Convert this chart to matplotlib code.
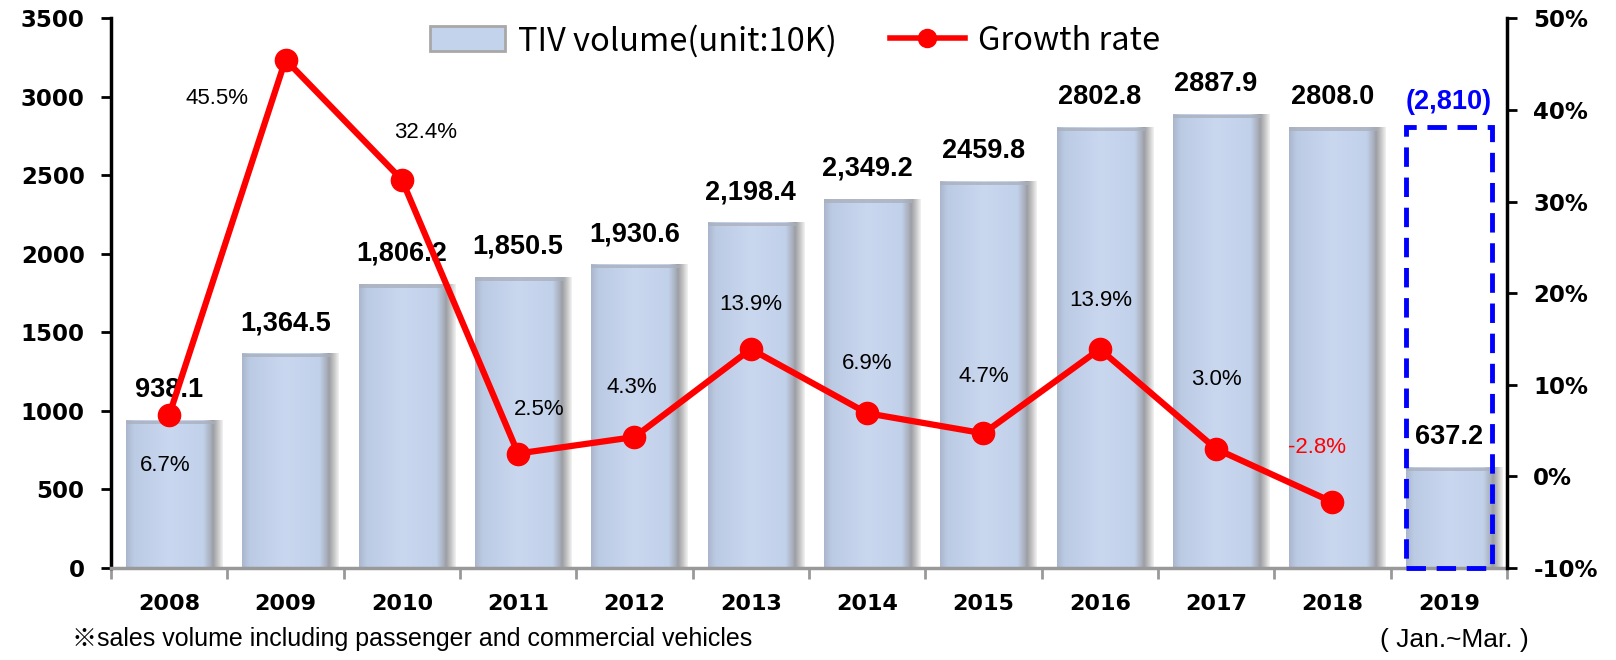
"""
TIV volume and growth rate chart
"""

import numpy as np
import matplotlib

matplotlib.use("Agg")
import matplotlib.pyplot as plt
from matplotlib.patches import Rectangle, Patch
from matplotlib.lines import Line2D

years = ["2008", "2009", "2010", "2011", "2012", "2013",
         "2014", "2015", "2016", "2017", "2018", "2019"]
volume = [938.1, 1364.5, 1806.2, 1850.5, 1930.6, 2198.4,
          2349.2, 2459.8, 2802.8, 2887.9, 2808.0, 637.2]
volume_labels = ["938.1", "1,364.5", "1,806.2", "1,850.5", "1,930.6", "2,198.4",
                 "2,349.2", "2459.8", "2802.8", "2887.9", "2808.0", "637.2"]
growth = [6.7, 45.5, 32.4, 2.5, 4.3, 13.9, 6.9, 4.7, 13.9, 3.0, -2.8]
growth_labels = ["6.7%", "45.5%", "32.4%", "2.5%", "4.3%", "13.9%",
                 "6.9%", "4.7%", "13.9%", "3.0%", "-2.8%"]
forecast_2019 = 2810
forecast_label = "(2,810)"

# offsets of the growth labels from their points (points)
growth_offsets = [(-3, -36), (-49, -28), (17, 34), (15, 32), (-2, 36), (0, 32),
                  (0, 36), (0, 41), (1, 35), (0, 50), (-11, 39)]

fig = plt.figure(figsize=(16.16, 6.6), dpi=100)
ax = fig.add_axes([0.0687, 0.1394, 0.8638, 0.8326])
x = np.arange(len(years))

bar_w = 0.74
shadow_w = 0.09
bars = ax.bar(x, volume, width=bar_w, color="none", edgecolor="none", zorder=2)

# gradient fill for each bar, light blue with a grey shadow on the right
cmap = matplotlib.colors.LinearSegmentedColormap.from_list(
    "barfill",
    [(0.0, "#aab6cc"), (0.08, "#bccbe4"), (0.45, "#c9d8ef"), (0.8, "#c2d1ea"),
     (0.87, "#aab1c0"), (0.9, "#9c9ea4"), (0.95, "#c4c4c4"), (1.0, "#f2f2f2")],
)
grad = np.linspace(0, 1, 256).reshape(1, -1)
for b in bars:
    x0 = b.get_x()
    w = b.get_width()
    h = b.get_height()
    ax.imshow(grad, cmap=cmap, extent=[x0, x0 + w + shadow_w, 0, h], aspect="auto",
              interpolation="bilinear", zorder=1)
    ax.add_patch(Rectangle((x0, h - 22), w + 0.02, 22, facecolor="#a9afbb",
                           edgecolor="none", alpha=0.75, zorder=1.5))

for xi, v, lab in zip(x, volume, volume_labels):
    ax.annotate(lab, (xi, v), xytext=(0, 22), textcoords="offset points",
                ha="center", va="center", fontsize=19.5, fontweight="bold",
                family="Liberation Sans", zorder=5)

# dashed forecast box for 2019
ax.add_patch(Rectangle((x[-1] - 0.37, 0), 0.74, forecast_2019, fill=False,
                       edgecolor="#0000ff", linestyle=(0, (4, 2.2)), linewidth=3.5,
                       zorder=6, clip_on=False))
ax.annotate(forecast_label, (x[-1], forecast_2019), xytext=(0, 18),
            textcoords="offset points", ha="center", va="center",
            fontsize=19.5, fontweight="bold", color="#0000ff",
            family="Liberation Sans")

ax.set_xlim(-0.5, len(years) - 0.5)
ax.set_ylim(0, 3500)
ax.set_yticks(np.arange(0, 3501, 500))
ax.set_xticks(x)
ax.set_xticklabels(years)
ax.set_xticks(np.arange(-0.5, len(years)), minor=True)
ax.tick_params(axis="x", which="major", length=0, pad=19, labelsize=16)
ax.tick_params(axis="x", which="minor", length=8, width=2, color="#999999")
ax.tick_params(axis="y", length=7, width=2, labelsize=16.5, pad=12)
for lab in ax.get_xticklabels() + ax.get_yticklabels():
    lab.set_fontweight("bold")
ax.spines["top"].set_visible(False)
ax.spines["right"].set_visible(False)
ax.spines["left"].set_linewidth(2.5)
ax.spines["bottom"].set_color("#999999")
ax.spines["bottom"].set_linewidth(2.5)

ax2 = ax.twinx()
ax2.plot(x[:len(growth)], growth, color="#ff0000", linewidth=4.5, marker="o",
         markersize=16, zorder=4)
for xi, g, lab, off in zip(x, growth, growth_labels, growth_offsets):
    ax2.annotate(lab, (xi, g), xytext=off, textcoords="offset points",
                 ha="center", va="center", fontsize=16,
                 family="Liberation Sans",
                 color="#ff0000" if g < 0 else "black")
ax2.set_ylim(-10, 50)
ax2.set_yticks(np.arange(-10, 51, 10))
ax2.set_yticklabels([f"{t}%" for t in range(-10, 51, 10)])
ax2.tick_params(axis="y", length=7, width=2, labelsize=16.5, pad=12)
for lab in ax2.get_yticklabels():
    lab.set_fontweight("bold")
ax2.spines["top"].set_visible(False)
ax2.spines["left"].set_visible(False)
ax2.spines["bottom"].set_visible(False)
ax2.spines["right"].set_linewidth(2.5)

# legend
handles = [
    Patch(facecolor="#c3d3ec", edgecolor="#a8a8a8", linewidth=2),
    Line2D([0], [0], color="#ff0000", linewidth=4, marker="o", markersize=13),
]
fig.legend(handles, ["TIV volume(unit:10K)", "Growth rate"],
           loc="center", bbox_to_anchor=(0.492, 0.938), ncol=2, frameon=False,
           prop={"family": "Noto Sans CJK KR", "size": 23.5}, handlelength=2.3,
           handleheight=0.8, columnspacing=1.6, handletextpad=0.4)

fig.text(0.0446, 0.032, "※sales volume including passenger and commercial vehicles",
         fontsize=18, family=["Liberation Sans", "Noto Sans CJK KR"], va="center")
fig.text(0.9, 0.03, "( Jan.~Mar. )", fontsize=19, family="Liberation Sans",
         ha="center", va="center")

fig.savefig("out.png", dpi=100)
